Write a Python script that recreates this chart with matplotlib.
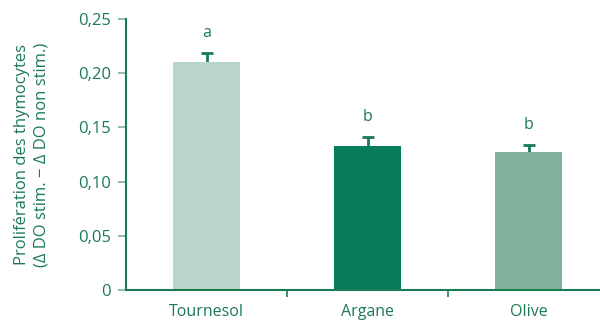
import matplotlib.pyplot as plt
from matplotlib.ticker import FuncFormatter

# thymocyte proliferation per oil
huiles = ["Tournesol", "Argane", "Olive"]
proliferation = [0.210, 0.133, 0.127]
erreur = [0.0088, 0.0078, 0.0072]
lettres = ["a", "b", "b"]
couleurs = ["#b9d5c9", "#077c5a", "#80b29b"]

vert = "#1a7a52"
plt.rcParams['font.family'] = ['Open Sans', 'DejaVu Sans']

fig = plt.figure(figsize=(6, 3.2), dpi=100)
ax = fig.add_axes([126 / 600, 30 / 320, 483 / 600, 271 / 320])

x = range(len(huiles))
ax.bar(x, proliferation, width=0.41, color=couleurs, zorder=2)
# error bars drawn under the bars so only the upper half shows
ax.errorbar(x, proliferation, yerr=erreur, fmt="none",
            ecolor=vert, elinewidth=2, capsize=4, capthick=2, zorder=1)
for i, (v, e, l) in enumerate(zip(proliferation, erreur, lettres)):
    ax.text(i, v + e + 0.011, l, ha="center", va="bottom", color=vert, fontsize=11.5)

ax.set_xlim(-0.5, 2.5)
ax.set_ylim(0, 0.25)
ax.set_yticks([0, 0.05, 0.10, 0.15, 0.20, 0.25])
ax.yaxis.set_major_formatter(FuncFormatter(lambda v, p: "0" if v == 0 else f"{v:.2f}".replace(".", ",")))
ax.set_xticks([0.5, 1.5])
ax.set_xticks(list(x), minor=True)
ax.set_xticklabels(["", ""])
ax.set_xticklabels(huiles, minor=True)
ax.tick_params(axis="x", which="minor", length=0, pad=10, labelcolor=vert, labelsize=11.5)
ax.tick_params(axis="x", which="major", length=5, color=vert, width=1.2)
ax.tick_params(axis="y", length=6, pad=5, color="#80b29b", width=1.2, labelcolor=vert, labelsize=12)

for s in ["top", "right"]:
    ax.spines[s].set_visible(False)
for s in ["left", "bottom"]:
    ax.spines[s].set_color(vert)
    ax.spines[s].set_linewidth(1.5)

ax.set_ylabel("Prolifération des thymocytes\n(Δ DO stim. − Δ DO non stim.)",
              color=vert, fontsize=12, labelpad=20, linespacing=1.35)

fig.savefig("out.png", dpi=100)
